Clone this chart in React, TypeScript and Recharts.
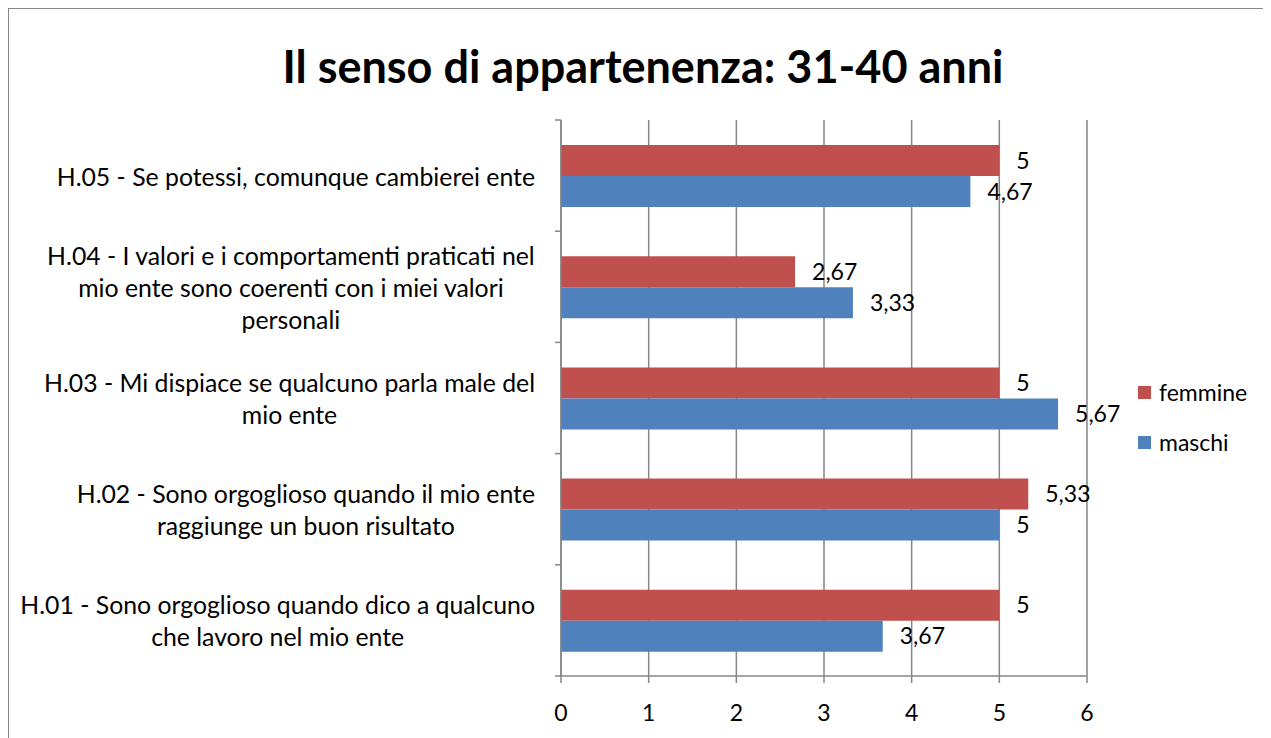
import { Bar, BarChart, CartesianGrid, LabelList, Legend, XAxis, YAxis } from 'recharts';

const categories = [
  'H.05 - Se potessi, comunque cambierei ente',
  'H.04 - I valori e i comportamenti praticati nel\nmio ente sono coerenti con i miei valori\npersonali',
  'H.03 - Mi dispiace se qualcuno parla male del\nmio ente',
  'H.02 - Sono orgoglioso quando il mio ente\nraggiunge un buon risultato',
  'H.01 - Sono orgoglioso quando dico a qualcuno\nche lavoro nel mio ente',
];
const femmine = [5, 2.67, 5, 5.33, 5];
const maschi = [4.67, 3.33, 5.67, 5, 3.67];
const xTicks = [0, 1, 2, 3, 4, 5, 6];

const data = categories.map((name, i) => ({ name, femmine: femmine[i], maschi: maschi[i] }));

const FONT = 'Lato, "Open Sans", sans-serif';
const GRID = '#868686';
const RED = '#C0504D';
const BLUE = '#4F81BD';
const CHART_W = 1268;
const CHART_H = 738;
const YAXIS_W = 552;
const TICK_FS = 23;
const CAT_FS = 24.8;
const LINE_H = 32;

let measureCtx: CanvasRenderingContext2D | null = null;
function textWidth(s: string) {
  if (!measureCtx) measureCtx = document.createElement('canvas').getContext('2d');
  if (!measureCtx) return s.length * CAT_FS * 0.5;
  measureCtx.font = `${CAT_FS}px Lato`;
  return measureCtx.measureText(s).width;
}

function CategoryTick(props: any) {
  const { x, y, payload, index, visibleTicksCount } = props;
  const lines: string[] = String(payload.value).split('\n');
  const blockW = Math.max(...lines.map(textWidth));
  const cx = x - blockW / 2;
  const half = payload.offset || 55.6;
  const startY = y - ((lines.length - 1) * LINE_H) / 2;
  return (
    <g>
      <line x1={YAXIS_W - 6} x2={YAXIS_W} y1={y - half} y2={y - half} stroke={GRID} strokeWidth={1.5} />
      {index === visibleTicksCount - 1 && (
        <line x1={YAXIS_W - 6} x2={YAXIS_W} y1={y + half} y2={y + half} stroke={GRID} strokeWidth={1.5} />
      )}
      <text x={cx} y={startY} textAnchor="middle" dominantBaseline="central" fontSize={CAT_FS} fontFamily={FONT} fill="#000">
        {lines.map((l, i) => (
          <tspan key={i} x={cx} y={startY + i * LINE_H}>
            {l}
          </tspan>
        ))}
      </text>
    </g>
  );
}

function LegendBox({ payload }: any) {
  const items = [...(payload || [])];
  return (
    <div style={{ paddingLeft: 51, fontFamily: FONT, fontSize: TICK_FS, whiteSpace: 'nowrap' }}>
      {items.map((p: any) => (
        <div key={p.value} style={{ display: 'flex', alignItems: 'center', height: 50 }}>
          <span
            style={{ width: 13, height: 13, minWidth: 13, flexShrink: 0, background: p.color, marginRight: 8, display: 'inline-block' }}
          />
          <span>{p.value}</span>
        </div>
      ))}
    </div>
  );
}

const fmt = (v: any) => String(v).replace('.', ',');

export default function App() {
  return (
    <div
      style={{
        position: 'relative',
        width: CHART_W,
        height: CHART_H,
        border: `1px solid ${GRID}`,
        background: '#fff',
      }}
    >
      <div
        style={{
          position: 'absolute',
          top: 30,
          left: 0,
          width: '100%',
          textAlign: 'center',
          fontFamily: FONT,
          fontWeight: 700,
          fontSize: 45,
          lineHeight: '54px',
        }}
      >
        Il senso di appartenenza: 31-40 anni
      </div>
      <BarChart
        width={CHART_W}
        height={CHART_H}
        data={data}
        layout="vertical"
        margin={{ top: 111, right: 57, bottom: 0, left: 0 }}
        barGap={0}
      >
        <CartesianGrid horizontal={false} stroke={GRID} strokeWidth={1.5} />
        <XAxis
          type="number"
          domain={[0, 6]}
          ticks={xTicks}
          interval={0}
          height={71}
          axisLine={{ stroke: GRID, strokeWidth: 1.5 }}
          tickLine={{ stroke: GRID, strokeWidth: 1.5 }}
          tickSize={7}
          tickMargin={22}
          tick={{ fill: '#000', fontSize: TICK_FS, fontFamily: FONT }}
        />
        <YAxis
          type="category"
          dataKey="name"
          width={YAXIS_W}
          interval={0}
          axisLine={{ stroke: GRID, strokeWidth: 1.5 }}
          tickLine={false}
          tickSize={6}
          tickMargin={20}
          tick={<CategoryTick />}
        />
        <Legend
          layout="vertical"
          align="right"
          verticalAlign="middle"
          wrapperStyle={{ width: 133, top: 358 }}
          content={<LegendBox />}
        />
        <Bar dataKey="femmine" name="femmine" fill={RED} barSize={31} isAnimationActive={false}>
          <LabelList dataKey="femmine" position="right" offset={17} formatter={fmt} fill="#000" fontSize={TICK_FS} fontFamily={FONT} />
        </Bar>
        <Bar dataKey="maschi" name="maschi" fill={BLUE} barSize={31} isAnimationActive={false}>
          <LabelList dataKey="maschi" position="right" offset={17} formatter={fmt} fill="#000" fontSize={TICK_FS} fontFamily={FONT} />
        </Bar>
      </BarChart>
    </div>
  );
}
